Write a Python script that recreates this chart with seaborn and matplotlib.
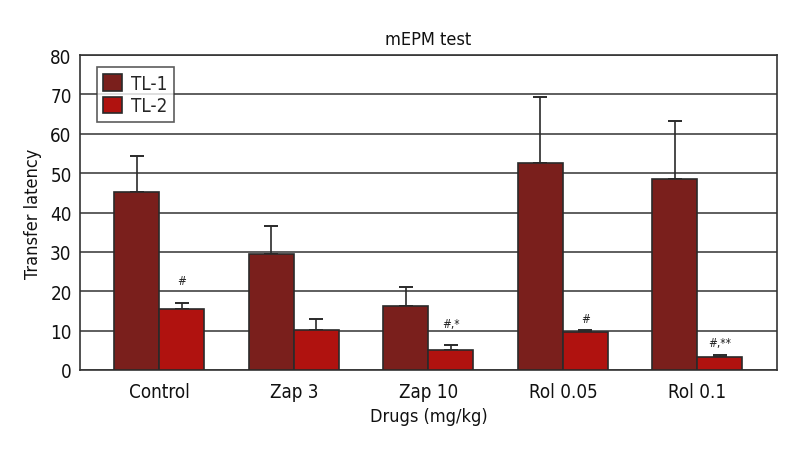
#!/usr/bin/env python3
"""mEPM test: transfer latency by drug group (TL-1 vs TL-2)."""

import matplotlib
matplotlib.use("Agg")
import matplotlib.pyplot as plt
import pandas as pd
import seaborn as sns

groups = ["Control", "Zap 3", "Zap 10", "Rol 0.05", "Rol 0.1"]
tl1_mean = [45.1, 29.4, 16.3, 52.6, 48.5]
tl1_err = [9.2, 7.1, 4.8, 16.8, 14.7]
tl2_mean = [15.4, 10.2, 5.0, 9.6, 3.3]
tl2_err = [1.6, 2.7, 1.3, 0.6, 0.6]
tl2_marks = ["#", "", "#,*", "#", "#,**"]
tl2_mark_y = [22.7, None, 11.7, 13.2, 7.1]

colors = {"TL-1": "#7a1f1c", "TL-2": "#b0120f"}


def main() -> None:
    sns.set_style("white")
    plt.rcParams["font.family"] = ["DejaVu Sans"]
    plt.rcParams["font.stretch"] = "condensed"

    df = pd.DataFrame({
        "group": groups * 2,
        "value": tl1_mean + tl2_mean,
        "err": tl1_err + tl2_err,
        "series": ["TL-1"] * len(groups) + ["TL-2"] * len(groups),
    })

    fig = plt.figure(figsize=(8, 4.6), dpi=100)
    ax = fig.add_axes([0.1, 0.1935, 0.871, 0.6845])

    sns.barplot(data=df, x="group", y="value", hue="series", palette=colors,
                width=0.67, gap=0, errorbar=None, edgecolor="#2a2a2a",
                linewidth=1.2, saturation=1, ax=ax, zorder=3)

    # one-sided error bars from the drawn bars
    for cont, series in zip(ax.containers, ["TL-1", "TL-2"]):
        sub = df[df["series"] == series].reset_index(drop=True)
        for patch, (_, row) in zip(cont.patches, sub.iterrows()):
            xc = patch.get_x() + patch.get_width() / 2
            ax.errorbar(xc, row["value"], yerr=[[0], [row["err"]]], fmt="none",
                        ecolor="#2a2a2a", elinewidth=1.2, capsize=5,
                        capthick=1.4, zorder=2)

    # significance marks above TL-2 bars
    for patch, mark, y in zip(ax.containers[1].patches, tl2_marks, tl2_mark_y):
        if mark:
            xc = patch.get_x() + patch.get_width() / 2
            ax.text(xc, y, mark, ha="center", va="center", fontsize=8.5,
                    color="#222222")

    ax.set_ylim(0, 80)
    ax.set_xlim(-0.59, 4.59)
    ax.set_yticks(range(0, 81, 10))
    ax.yaxis.grid(True, color="#333333", linewidth=1.1, zorder=0)
    ax.set_axisbelow(True)
    for sp in ax.spines.values():
        sp.set_visible(True)
        sp.set_color("#333333")
        sp.set_linewidth(1.2)
    ax.tick_params(axis="both", length=0, labelsize=13.5, colors="#111111", pad=6)
    ax.tick_params(axis="x", pad=9)

    ax.set_title("mEPM test", fontsize=13, pad=8, color="#111111")
    ax.set_xlabel("Drugs (mg/kg)", fontsize=13, labelpad=4, color="#111111")
    ax.set_ylabel("Transfer latency", fontsize=13, labelpad=6, color="#111111")

    leg = ax.legend(loc="upper left", bbox_to_anchor=(0.024, 0.962), fontsize=13.5,
                    frameon=True, fancybox=False, edgecolor="#333333",
                    handlelength=1.0, handleheight=1.0, handletextpad=0.5,
                    borderpad=0.35, labelspacing=0.2, borderaxespad=0)
    leg.get_frame().set_linewidth(1.2)

    fig.savefig("out.png", dpi=100)
    plt.close(fig)


if __name__ == "__main__":
    main()
